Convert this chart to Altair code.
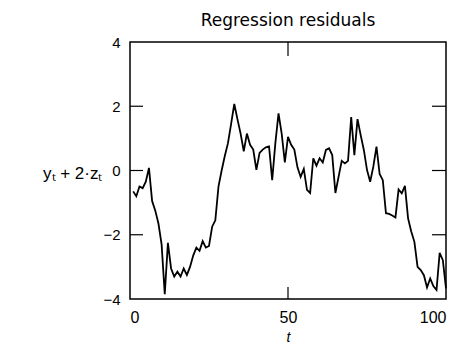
import altair as alt
import pandas as pd

t_vals = list(range(1, 101))
resid = [
    -0.65, -0.80, -0.50, -0.55, -0.35, 0.08, -0.95, -1.25, -1.65, -2.30,
    -3.85, -2.25, -3.05, -3.30, -3.15, -3.30, -3.05, -3.25, -3.00, -2.65,
    -2.40, -2.50, -2.20, -2.40, -2.35, -1.75, -1.55, -0.50, 0.00, 0.45,
    0.85, 1.45, 2.07, 1.60, 1.15, 0.60, 1.15, 0.80, 0.65, 0.02,
    0.55, 0.65, 0.72, 0.75, -0.30, 0.85, 1.78, 1.15, 0.25, 1.05,
    0.80, 0.65, 0.10, -0.20, 0.05, -0.60, -0.70, 0.38, 0.15, 0.38,
    0.25, 0.64, 0.69, 0.48, -0.70, -0.20, 0.30, 0.22, 0.30, 1.66,
    0.48, 1.60, 1.10, 0.64, 0.02, -0.35, 0.12, 0.74, -0.11, -0.30,
    -1.33, -1.35, -1.40, -1.46, -0.59, -0.71, -0.48, -1.49, -1.90, -2.22,
    -3.00, -3.10, -3.26, -3.64, -3.36, -3.60, -3.72, -2.56, -2.79, -3.67,
]
y_ticks = [-4, -2, 0, 2, 4]
x_ticks = [0, 50, 100]
inner_y_ticks = [-2, 0, 2]
inner_x_ticks = [50]

W, H = 316, 257
FONT = "Liberation Sans"

df = pd.DataFrame({"t": t_vals, "resid": resid})
xs = alt.Scale(domain=[0, 100], nice=False, zero=False)
ys = alt.Scale(domain=[-4, 4], nice=False, zero=False)

x_axis = alt.Axis(values=x_ticks, tickSize=0, domain=False, grid=False,
                  labelPadding=10, labelFontSize=16, labelFont=FONT,
                  labelColor="black",
                  title="t", titleFontStyle="italic", titleFontWeight="normal",
                  titleFontSize=14, titleFont=FONT, titleColor="black",
                  titlePadding=5)
y_axis = alt.Axis(values=y_ticks, tickSize=0, domain=False, grid=False,
                  labelPadding=10, labelFontSize=15, labelFont=FONT,
                  labelColor="black",
                  title="y\u209c + 2\u00b7z\u209c", titleAngle=0,
                  titleAlign="right", titleBaseline="middle",
                  titleX=-28, titleY=131, titleFontSize=17,
                  titleFontWeight="normal", titleFont=FONT,
                  titleColor="black")

line = alt.Chart(df).mark_line(color="black", strokeWidth=1.8).encode(
    x=alt.X("t:Q", scale=xs, axis=x_axis),
    y=alt.Y("resid:Q", scale=ys, axis=y_axis),
)

ydf = pd.DataFrame({"resid": inner_y_ticks})
xdf = pd.DataFrame({"t": inner_x_ticks})

left_ticks = alt.Chart(ydf).mark_rule(color="black", strokeWidth=1.2).encode(
    y=alt.Y("resid:Q", scale=ys, axis=y_axis), x=alt.value(0), x2=alt.value(13))
right_ticks = alt.Chart(ydf).mark_rule(color="black", strokeWidth=1.2).encode(
    y=alt.Y("resid:Q", scale=ys, axis=y_axis), x=alt.value(W - 14), x2=alt.value(W))
top_ticks = alt.Chart(xdf).mark_rule(color="black", strokeWidth=1.2).encode(
    x=alt.X("t:Q", scale=xs, axis=x_axis), y=alt.value(0), y2=alt.value(14))
bottom_ticks = alt.Chart(xdf).mark_rule(color="black", strokeWidth=1.2).encode(
    x=alt.X("t:Q", scale=xs, axis=x_axis), y=alt.value(H - 12), y2=alt.value(H))

chart = alt.layer(line, left_ticks, right_ticks, top_ticks, bottom_ticks).properties(
    width=W, height=H,
    title=alt.TitleParams("Regression residuals", fontSize=17, fontWeight="normal",
                          font="DejaVu Sans", color="black", offset=5, anchor="middle"),
    autosize=alt.AutoSizeParams(type="none"),
    padding={"left": 122, "top": 34, "right": 11, "bottom": 50},
).configure(background="white").configure_view(stroke="black", strokeWidth=1.5)

chart.save("out.html", embed_options={"renderer": "svg", "actions": False})
